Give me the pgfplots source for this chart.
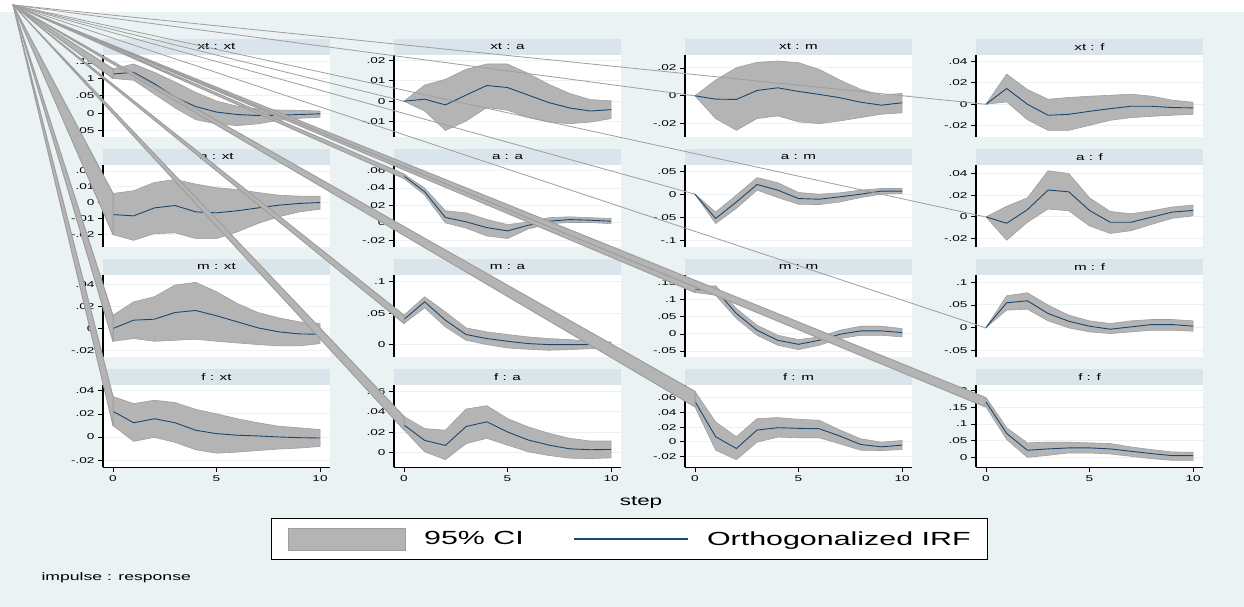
\documentclass[border=0pt]{standalone}
\usepackage{pgfplots}
\pgfplotsset{compat=1.18}
\usepackage{pgfplotstable}
\usepgfplotslibrary{fillbetween}
\usepackage{fontspec}
\setmainfont{Liberation Sans}[FakeStretch=1.6]
\definecolor{bgc}{RGB}{234,242,243}
\definecolor{strip}{RGB}{217,229,234}
\definecolor{irf}{RGB}{26,71,111}
\definecolor{cifill}{RGB}{180,180,180}
\definecolor{ciedge}{RGB}{158,158,158}
\definecolor{gridc}{RGB}{234,242,243}

% impulse : response tables
\pgfplotstableread{
step irf lo hi
0 0.113 0.100 0.128
1 0.118 0.095 0.142
2 0.085 0.055 0.118
3 0.046 0.015 0.090
4 0.019 -0.019 0.060
5 0.003 -0.031 0.035
6 -0.004 -0.036 0.020
7 -0.007 -0.031 0.012
8 -0.006 -0.021 0.009
9 -0.004 -0.015 0.008
10 -0.002 -0.012 0.006
}\tXtXt
\pgfplotstableread{
step irf lo hi
0 0 0 0
1 0.0010 -0.0048 0.0079
2 -0.0018 -0.0143 0.0107
3 0.0030 -0.0097 0.0156
4 0.0077 -0.0031 0.0182
5 0.0067 -0.0044 0.0182
6 0.0030 -0.0080 0.0136
7 -0.0007 -0.0102 0.0082
8 -0.0033 -0.0110 0.0038
9 -0.0048 -0.0102 0.0008
10 -0.0041 -0.0085 0.0002
}\tXtA
\pgfplotstableread{
step irf lo hi
0 0 0 0
1 -0.0024 -0.0163 0.0113
2 -0.0026 -0.0247 0.0201
3 0.0038 -0.0163 0.0240
4 0.0057 -0.0144 0.0249
5 0.0031 -0.0187 0.0237
6 0.0010 -0.0199 0.0189
7 -0.0014 -0.0180 0.0113
8 -0.0046 -0.0156 0.0046
9 -0.0067 -0.0132 0.0005
10 -0.0050 -0.0122 0.0017
}\tXtM
\pgfplotstableread{
step irf lo hi
0 0 0 0
1 0.0147 0.0022 0.0281
2 0.0000 -0.0144 0.0138
3 -0.0103 -0.0244 0.0047
4 -0.0094 -0.0244 0.0063
5 -0.0066 -0.0197 0.0075
6 -0.0041 -0.0150 0.0084
7 -0.0019 -0.0125 0.0094
8 -0.0019 -0.0113 0.0075
9 -0.0031 -0.0103 0.0038
10 -0.0034 -0.0094 0.0019
}\tXtF
\pgfplotstableread{
step irf lo hi
0 -0.0074 -0.0200 0.0059
1 -0.0082 -0.0236 0.0076
2 -0.0032 -0.0194 0.0128
3 -0.0017 -0.0189 0.0147
4 -0.0057 -0.0225 0.0118
5 -0.0063 -0.0225 0.0095
6 -0.0050 -0.0183 0.0084
7 -0.0032 -0.0130 0.0065
8 -0.0015 -0.0088 0.0048
9 -0.0004 -0.0057 0.0042
10 0.0002 -0.0040 0.0042
}\tAXt
\pgfplotstableread{
step irf lo hi
0 0.0538 0.0510 0.0560
1 0.0358 0.0320 0.0400
2 0.0062 0.0000 0.0140
3 0.0012 -0.0060 0.0115
4 -0.0054 -0.0150 0.0040
5 -0.0092 -0.0180 -0.0020
6 -0.0027 -0.0070 0.0010
7 0.0019 -0.0010 0.0060
8 0.0038 0.0005 0.0070
9 0.0031 0.0005 0.0060
10 0.0019 -0.0010 0.0050
}\tAA
\pgfplotstableread{
step irf lo hi
0 0 0 0
1 -0.053 -0.064 -0.039
2 -0.017 -0.031 -0.002
3 0.021 0.0088 0.036
4 0.0088 -0.0073 0.025
5 -0.0095 -0.022 0.0036
6 -0.011 -0.0226 0.0
7 -0.0058 -0.017 0.003
8 0.0 -0.0073 0.0088
9 0.0066 0.0 0.0124
10 0.0066 0.0015 0.0124
}\tAM
\pgfplotstableread{
step irf lo hi
0 0 0 0
1 -0.0059 -0.0216 0.0097
2 0.0066 -0.0050 0.0175
3 0.0247 0.0072 0.0425
4 0.0231 0.0056 0.0400
5 0.0059 -0.0084 0.0175
6 -0.0050 -0.0153 0.0050
7 -0.0050 -0.0128 0.0028
8 -0.0003 -0.0069 0.0056
9 0.0044 -0.0013 0.0091
10 0.0059 0.0009 0.0109
}\tAF
\pgfplotstableread{
step irf lo hi
0 0.0000 -0.0116 0.0120
1 0.0076 -0.0091 0.0243
2 0.0085 -0.0116 0.0289
3 0.0146 -0.0107 0.0396
4 0.0164 -0.0097 0.0420
5 0.0116 -0.0116 0.0335
6 0.0061 -0.0131 0.0228
7 0.0006 -0.0146 0.0146
8 -0.0030 -0.0158 0.0097
9 -0.0049 -0.0158 0.0061
10 -0.0052 -0.0137 0.0046
}\tMXt
\pgfplotstableread{
step irf lo hi
0 0.0400 0.0335 0.0468
1 0.0680 0.0585 0.0760
2 0.0388 0.0282 0.0520
3 0.0160 0.0069 0.0266
4 0.0096 0.0000 0.0202
5 0.0053 -0.0053 0.0160
6 0.0016 -0.0074 0.0122
7 0.0000 -0.0090 0.0096
8 0.0000 -0.0080 0.0080
9 0.0000 -0.0064 0.0053
10 0.0000 -0.0053 0.0043
}\tMA
\pgfplotstableread{
step irf lo hi
0 0.1290 0.1210 0.1377
1 0.1290 0.1130 0.1406
2 0.0596 0.0450 0.0742
3 0.0107 -0.0039 0.0254
4 -0.0186 -0.0332 -0.0039
5 -0.0303 -0.0459 -0.0166
6 -0.0186 -0.0332 -0.0088
7 -0.0010 -0.0137 0.0107
8 0.0088 -0.0039 0.0225
9 0.0088 -0.0039 0.0225
10 0.0039 -0.0088 0.0156
}\tMM
\pgfplotstableread{
step irf lo hi
0 0 0 0
1 0.0547 0.0384 0.0702
2 0.0591 0.0406 0.0768
3 0.0310 0.0148 0.0495
4 0.0140 -0.0007 0.0273
5 0.0030 -0.0096 0.0148
6 -0.0037 -0.0133 0.0089
7 0.0015 -0.0096 0.0148
8 0.0066 -0.0059 0.0177
9 0.0066 -0.0059 0.0177
10 0.0030 -0.0081 0.0148
}\tMF
\pgfplotstableread{
step irf lo hi
0 0.0222 0.0099 0.0350
1 0.0123 -0.0038 0.0289
2 0.0158 -0.0003 0.0318
3 0.0123 -0.0047 0.0298
4 0.0058 -0.0111 0.0239
5 0.0029 -0.0140 0.0201
6 0.0015 -0.0131 0.0158
7 0.0009 -0.0117 0.0123
8 0.0000 -0.0105 0.0093
9 -0.0006 -0.0096 0.0079
10 -0.0009 -0.0082 0.0064
}\tFXt
\pgfplotstableread{
step irf lo hi
0 0.0272 0.0223 0.0354
1 0.0121 0.0010 0.0236
2 0.0072 -0.0066 0.0220
3 0.0256 0.0089 0.0426
4 0.0302 0.0141 0.0459
5 0.0203 0.0075 0.0334
6 0.0125 0.0010 0.0252
7 0.0075 -0.0026 0.0190
8 0.0039 -0.0052 0.0141
9 0.0030 -0.0056 0.0115
10 0.0033 -0.0049 0.0115
}\tFA
\pgfplotstableread{
step irf lo hi
0 0.0552 0.0478 0.0690
1 0.0069 -0.0115 0.0271
2 -0.0092 -0.0244 0.0069
3 0.0161 -0.0005 0.0317
4 0.0193 0.0064 0.0331
5 0.0184 0.0055 0.0308
6 0.0179 0.0055 0.0294
7 0.0078 -0.0028 0.0161
8 -0.0037 -0.0115 0.0041
9 -0.0069 -0.0120 -0.0005
10 -0.0046 -0.0106 0.0018
}\tFM
\pgfplotstableread{
step irf lo hi
0 0.1667 0.1515 0.1800
1 0.0717 0.0535 0.0889
2 0.0212 0.0000 0.0434
3 0.0253 0.0061 0.0455
4 0.0283 0.0131 0.0455
5 0.0283 0.0131 0.0434
6 0.0253 0.0101 0.0414
7 0.0182 0.0030 0.0313
8 0.0111 -0.0040 0.0232
9 0.0050 -0.0091 0.0162
10 0.0050 -0.0091 0.0152
}\tFF

\tikzset{stripnode/.style={fill=strip, minimum width=227pt, minimum height=16pt,
  inner sep=0pt, anchor=south, font=\fontsize{9.5}{11}\selectfont, text=black}}

\pgfplotsset{
  irfpanel/.style={
    scale only axis, width=227pt, height=82pt,
    xmin=-0.48, xmax=10.48,
    axis background/.style={fill=white},
    axis y line*=left,
    y axis line style={black, line width=1.1pt},
    tick align=outside, major tick length=5pt,
    ytick style={black, line width=0.7pt},
    ymajorgrids, major grid style={draw=gridc, line width=0.9pt},
    yticklabel style={font=\fontsize{8.5}{10}\selectfont, text=black},
    xticklabel style={font=\fontsize{8.5}{10}\selectfont, text=black},
    clip mode=individual,
  },
  toprow/.style={irfpanel, hide x axis},
  botrow/.style={irfpanel, axis x line*=bottom, xtick={0,5,10}, xticklabels={0,5,10},
    x axis line style={black, line width=0.9pt}, xtick style={black, line width=0.7pt}},
  ptitle/.style={after end axis/.append code={\node[stripnode] at (rel axis cs:0.5,1) {#1};}},
  stray/.style={fill=cifill, draw=ciedge, line width=1pt, line join=round, forget plot},
  strayline/.style={ciedge, line width=0.8pt, forget plot},
}

\newcommand{\irfplots}[1]{%
  \addplot[name path=hi, draw=none, forget plot] table[x=step,y=hi] {#1};
  \addplot[name path=lo, draw=none, forget plot] table[x=step,y=lo] {#1};
  \addplot[fill=cifill, draw=ciedge, line width=0.6pt, forget plot] fill between[of=hi and lo];
  \addplot[irf, line width=0.9pt, forget plot] table[x=step,y=irf] {#1};
}

\begin{document}
\begin{tikzpicture}
\pgfplotsset{set layers}

% graph region (background), drawn first on the lowest layer
\begin{axis}[at={(0pt,-607pt)}, anchor=south west, scale only axis,
  width=1244pt, height=595pt, xmin=0, xmax=1, ymin=0, ymax=1,
  axis lines=none, xtick=\empty, ytick=\empty,
  axis background/.style={fill=bgc}]
\end{axis}

% ---------------- row 1 ----------------
\begin{axis}[toprow, ptitle={xt : xt}, at={(103pt,-137pt)}, anchor=south west,
  ymin=-0.069, ymax=0.168, ytick={-0.05,0,0.05,0.1,0.15}, yticklabels={-.05,0,.05,.1,.15}]
\irfplots{\tXtXt}
\end{axis}
\begin{axis}[toprow, ptitle={xt : a}, at={(394pt,-137pt)}, anchor=south west,
  ymin=-0.0175, ymax=0.0226, ytick={-0.01,0,0.01,0.02}, yticklabels={-.01,0,.01,.02}]
\irfplots{\tXtA}
\end{axis}
\begin{axis}[toprow, ptitle={xt : m}, at={(685pt,-137pt)}, anchor=south west,
  ymin=-0.0295, ymax=0.0292, ytick={-0.02,0,0.02}, yticklabels={-.02,0,.02}]
\irfplots{\tXtM}
\end{axis}
\begin{axis}[toprow, ptitle={xt : f}, at={(976pt,-137pt)}, anchor=south west,
  ymin=-0.0306, ymax=0.046, ytick={-0.02,0,0.02,0.04}, yticklabels={-.02,0,.02,.04}]
\irfplots{\tXtF}
\end{axis}

% ---------------- row 2 ----------------
\begin{axis}[toprow, ptitle={a : xt}, at={(103pt,-247pt)}, anchor=south west,
  ymin=-0.0278, ymax=0.0238, ytick={-0.02,-0.01,0,0.01,0.02}, yticklabels={-.02,-.01,0,.01,.02}]
\irfplots{\tAXt}
\end{axis}
\begin{axis}[toprow, ptitle={a : a}, at={(394pt,-247pt)}, anchor=south west,
  ymin=-0.0277, ymax=0.0665, ytick={-0.02,0,0.02,0.04,0.06}, yticklabels={-.02,0,.02,.04,.06}]
\irfplots{\tAA}
\end{axis}
\begin{axis}[toprow, ptitle={a : m}, at={(685pt,-247pt)}, anchor=south west,
  ymin=-0.115, ymax=0.0635, ytick={-0.1,-0.05,0,0.05}, yticklabels={-.1,-.05,0,.05}]
\irfplots{\tAM}
\end{axis}
\begin{axis}[toprow, ptitle={a : f}, at={(976pt,-247pt)}, anchor=south west,
  ymin=-0.0278, ymax=0.0478, ytick={-0.02,0,0.02,0.04}, yticklabels={-.02,0,.02,.04}]
\irfplots{\tAF}
\end{axis}

% ---------------- row 3 ----------------
\begin{axis}[toprow, ptitle={m : xt}, at={(103pt,-357pt)}, anchor=south west,
  ymin=-0.0259, ymax=0.0487, ytick={-0.02,0,0.02,0.04}, yticklabels={-.02,0,.02,.04}]
\irfplots{\tMXt}
\end{axis}
\begin{axis}[toprow, ptitle={m : a}, at={(394pt,-357pt)}, anchor=south west,
  ymin=-0.0197, ymax=0.1106, ytick={0,0.05,0.1}, yticklabels={0,.05,.1}]
\irfplots{\tMA}
\end{axis}
\begin{axis}[toprow, ptitle={m : m}, at={(685pt,-357pt)}, anchor=south west,
  ymin=-0.0674, ymax=0.172, ytick={-0.05,0,0.05,0.1,0.15}, yticklabels={-.05,0,.05,.1,.15}]
\irfplots{\tMM}
\end{axis}
\begin{axis}[toprow, ptitle={m : f}, at={(976pt,-357pt)}, anchor=south west,
  ymin=-0.065, ymax=0.116, ytick={-0.05,0,0.05,0.1}, yticklabels={-.05,0,.05,.1}]
\irfplots{\tMF}
\end{axis}

% ---------------- row 4 ----------------
\begin{axis}[botrow, ptitle={f : xt}, at={(103pt,-467pt)}, anchor=south west,
  ymin=-0.026, ymax=0.045, ytick={-0.02,0,0.02,0.04}, yticklabels={-.02,0,.02,.04}]
\irfplots{\tFXt}
\end{axis}
\begin{axis}[botrow, ptitle={f : a}, at={(394pt,-467pt)}, anchor=south west,
  ymin=-0.0138, ymax=0.066, ytick={0,0.02,0.04,0.06}, yticklabels={0,.02,.04,.06}]
\irfplots{\tFA}
\end{axis}
\begin{axis}[botrow, ptitle={f : m}, at={(685pt,-467pt)}, anchor=south west,
  ymin=-0.0345, ymax=0.0777, ytick={-0.02,0,0.02,0.04,0.06}, yticklabels={-.02,0,.02,.04,.06}]
\irfplots{\tFM}
\end{axis}
\begin{axis}[botrow, ptitle={f : f}, at={(976pt,-467pt)}, anchor=south west,
  ymin=-0.029, ymax=0.217, ytick={0,0.05,0.1,0.15,0.2}, yticklabels={0,.05,.1,.15,.2}]
\irfplots{\tFF}
\end{axis}

% ---------------- overlay: stray area outlines, labels, legend ----------------
\begin{axis}[at={(0pt,-607pt)}, anchor=south west, scale only axis,
  width=1244pt, height=607pt, xmin=0, xmax=1244, ymin=0, ymax=607, y dir=reverse,
  hide axis, clip=false,
  legend columns=2,
  legend style={at={(axis cs:629.5,539)}, anchor=center, draw=black, fill=white,
    font=\fontsize{19}{22}\selectfont, inner xsep=17pt, inner ysep=9pt,
    nodes={inner sep=0pt},
    /tikz/every odd column/.append style={column sep=18pt},
    /tikz/every even column/.append style={column sep=50pt}},
  legend cell align=left]
\addlegendimage{legend image code/.code={\draw[fill=cifill,draw=ciedge,line width=0.8pt] (0pt,-11pt) rectangle (117pt,11pt);}}
\addlegendentry{95\% CI}
\addlegendimage{legend image code/.code={\draw[irf,line width=1.2pt] (0pt,0pt) -- (114pt,0pt);}}
\addlegendentry{Orthogonalized IRF}
% stray wedges from the origin to each panel's first interval (in pixel units)
\addplot[stray] coordinates {(13,5) (113,68.8) (113,78.5)} --cycle;
\addplot[strayline] coordinates {(13,5) (404,101.2)};
\addplot[strayline] coordinates {(13,5) (695,95.8)};
\addplot[strayline] coordinates {(13,5) (985,104.2)};
\addplot[stray] coordinates {(13,5) (113,193.4) (113,234.6)} --cycle;
\addplot[stray] coordinates {(13,5) (404,174.1) (404,178.5)} --cycle;
\addplot[strayline] coordinates {(13,5) (695,194.2)};
\addplot[strayline] coordinates {(13,5) (985,216.8)};
\addplot[stray] coordinates {(13,5) (113,315.3) (113,341.3)} --cycle;
\addplot[stray] coordinates {(13,5) (404,315.2) (404,323.5)} --cycle;
\addplot[stray] coordinates {(13,5) (695,286.7) (695,292.5)} --cycle;
\addplot[strayline] coordinates {(13,5) (985,327.6)};
\addplot[stray] coordinates {(13,5) (113,396.5) (113,425.5)} --cycle;
\addplot[stray] coordinates {(13,5) (404,416.4) (404,429.9)} --cycle;
\addplot[stray] coordinates {(13,5) (695,391.4) (695,406.9)} --cycle;
\addplot[stray] coordinates {(13,5) (985,397.3) (985,406.8)} --cycle;
\node[font=\fontsize{14}{17}\selectfont] at (axis cs:641,502) {step};
\node[anchor=west, font=\fontsize{11}{13}\selectfont] at (axis cs:38,578) {impulse : response};
\end{axis}
\pgfresetboundingbox
\path (0pt,0pt) rectangle (1244pt,-607pt);
\end{tikzpicture}
\end{document}
